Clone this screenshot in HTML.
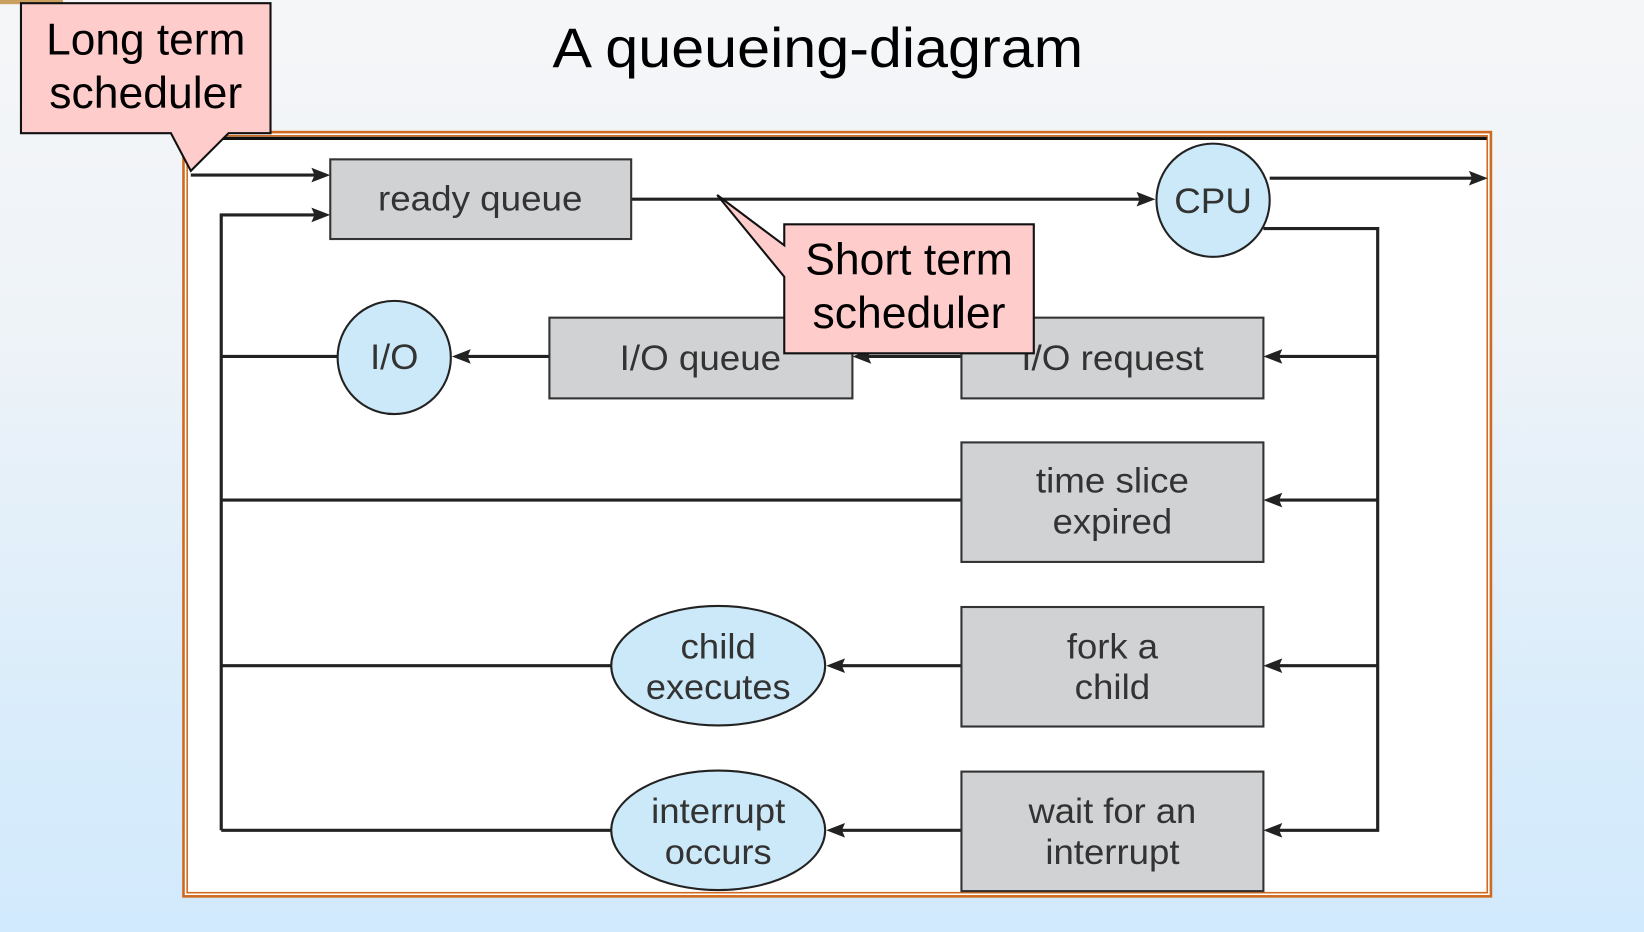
<!DOCTYPE html>
<html><head><style>
html,body{margin:0;padding:0;width:1644px;height:932px;overflow:hidden;}
body{background:linear-gradient(180deg,#f5f6f8 0%,#eef3f8 35%,#d8ecfb 80%,#d2eafd 100%);}
svg{display:block;}
text{font-family:"Liberation Sans",sans-serif;}
</style></head><body>
<svg width="1644" height="932" viewBox="0 0 1568 889" preserveAspectRatio="none">
<rect x="0" y="0" width="60" height="4" fill="#c9a060"/>
<text x="780" y="64" font-size="53" text-anchor="middle" fill="#000" textLength="506" lengthAdjust="spacingAndGlyphs">A queueing-diagram</text>
<!-- frame -->
<rect x="175" y="126" width="1247" height="729" fill="#fff" stroke="#d06a1e" stroke-width="2.5"/>
<rect x="178.5" y="129.5" width="1240" height="722" fill="none" stroke="#d06a1e" stroke-width="1.5"/>
<line x1="180" y1="132" x2="1418" y2="132" stroke="#111" stroke-width="3"/>
<g stroke="#222" stroke-width="3" fill="none">
<polyline points="182,167 305,167"/>
<polyline points="211,792 211,205 305,205"/>
<polyline points="602,190 1092,190"/>
<polyline points="1211,170 1410,170"/>
<polyline points="1205,218 1314,218 1314,792 1214,792"/>
<polyline points="1314,340 1214,340"/>
<polyline points="1314,477 1214,477"/>
<polyline points="1314,635 1214,635"/>
<polyline points="917,340 822,340"/>
<polyline points="524,340 440,340"/>
<polyline points="322,340 211,340"/>
<polyline points="917,477 211,477"/>
<polyline points="917,635 797,635"/>
<polyline points="583,635 211,635"/>
<polyline points="917,792 797,792"/>
<polyline points="583,792 211,792"/>
</g>
<g fill="#222">
<polygon points="315,167 297,160 300,167 297,174"/>
<polygon points="315,205 297,198 300,205 297,212"/>
<polygon points="1102,190 1084,183 1087,190 1084,197"/>
<polygon points="1419,170 1401,163 1404,170 1401,177"/>
<polygon points="1205,340 1223,333 1220,340 1223,347"/>
<polygon points="1205,477 1223,470 1220,477 1223,484"/>
<polygon points="1205,635 1223,628 1220,635 1223,642"/>
<polygon points="1205,792 1223,785 1220,792 1223,799"/>
<polygon points="813,340 831,333 828,340 831,347"/>
<polygon points="431,340 449,333 446,340 449,347"/>
<polygon points="788,635 806,628 803,635 806,642"/>
<polygon points="788,792 806,785 803,792 806,799"/>
</g>
<g fill="#d1d2d4" stroke="#333" stroke-width="2">
<rect x="315" y="152" width="287" height="76"/>
<rect x="524" y="303" width="289" height="77"/>
<rect x="917" y="303" width="288" height="77"/>
<rect x="917" y="422" width="288" height="114"/>
<rect x="917" y="579" width="288" height="114"/>
<rect x="917" y="736" width="288" height="114"/>
</g>
<g fill="#cce9f9" stroke="#222" stroke-width="2">
<circle cx="1157" cy="191" r="54"/>
<circle cx="376" cy="341" r="54"/>
<ellipse cx="685" cy="635" rx="102" ry="57"/>
<ellipse cx="685" cy="792" rx="102" ry="57"/>
</g>
<g font-size="34" fill="#333" text-anchor="middle">
<text x="458" y="201" textLength="195" lengthAdjust="spacingAndGlyphs">ready queue</text>
<text x="668" y="353" textLength="154" lengthAdjust="spacingAndGlyphs">I/O queue</text>
<text x="1061" y="353" textLength="174" lengthAdjust="spacingAndGlyphs">I/O request</text>
<text x="1061" y="470" textLength="146" lengthAdjust="spacingAndGlyphs">time slice</text>
<text x="1061" y="509" textLength="114" lengthAdjust="spacingAndGlyphs">expired</text>
<text x="1061" y="628" textLength="87" lengthAdjust="spacingAndGlyphs">fork a</text>
<text x="1061" y="667" textLength="72" lengthAdjust="spacingAndGlyphs">child</text>
<text x="1061" y="785" textLength="160" lengthAdjust="spacingAndGlyphs">wait for an</text>
<text x="1061" y="824" textLength="128" lengthAdjust="spacingAndGlyphs">interrupt</text>
<text x="1157" y="203" textLength="74" lengthAdjust="spacingAndGlyphs">CPU</text>
<text x="376" y="352" textLength="46" lengthAdjust="spacingAndGlyphs">I/O</text>
<text x="685" y="628" textLength="72" lengthAdjust="spacingAndGlyphs">child</text>
<text x="685" y="667" textLength="138" lengthAdjust="spacingAndGlyphs">executes</text>
<text x="685" y="785" textLength="128" lengthAdjust="spacingAndGlyphs">interrupt</text>
<text x="685" y="824" textLength="102" lengthAdjust="spacingAndGlyphs">occurs</text>
</g>
<!-- callouts -->
<path d="M20,3 H258 V127 H218 L182,163 L163,127 H20 Z" fill="#ffcccc" stroke="#111" stroke-width="2"/>
<g font-size="42" fill="#000" text-anchor="middle">
<text x="139" y="52" textLength="190" lengthAdjust="spacingAndGlyphs">Long term</text>
<text x="139" y="103" textLength="184" lengthAdjust="spacingAndGlyphs">scheduler</text>
</g>
<path d="M748,214 H986 V337 H748 V264 L684,186 L748,234 Z" fill="#ffcccc" stroke="#111" stroke-width="2"/>
<g font-size="42" fill="#000" text-anchor="middle">
<text x="867" y="262" textLength="198" lengthAdjust="spacingAndGlyphs">Short term</text>
<text x="867" y="313" textLength="184" lengthAdjust="spacingAndGlyphs">scheduler</text>
</g>
</svg>
</body></html>
